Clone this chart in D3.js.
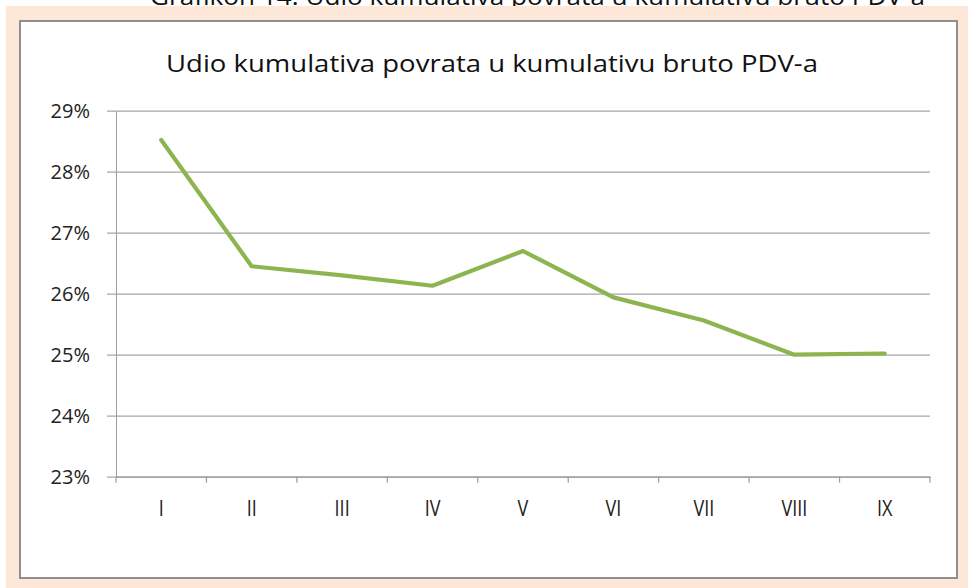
<!DOCTYPE html>
<html>
<head>
<meta charset="utf-8">
<script src="https://cdn.jsdelivr.net/npm/d3@7"></script>
<style>
  html, body { margin: 0; padding: 0; background: #ffffff; }
  svg { display: block; }
</style>
</head>
<body>
<svg id="chart" width="968" height="588"></svg>
<script>
const categories = ["I", "II", "III", "IV", "V", "VI", "VII", "VIII", "IX"];
const shareValues = [28.52, 26.45, 26.30, 26.13, 26.70, 25.94, 25.56, 25.00, 25.02];
const yTicks = [23, 24, 25, 26, 27, 28, 29];
const chartTitle = "Udio kumulativa povrata u kumulativu bruto PDV-a";
const captionText = "Grafikon 14: Udio kumulativa povrata u kumulativu bruto PDV-a";

const svg = d3.select("#chart");
const W = 968, H = 588;
const font = "'Open Sans', 'Liberation Sans', sans-serif";

// caption cut off at the top
svg.append("text")
  .attr("x", 150).attr("y", 5)
  .attr("textLength", 775).attr("lengthAdjust", "spacingAndGlyphs")
  .style("font-family", font).style("font-size", "24px").style("fill", "#111")
  .text(captionText);

// peach frame
svg.append("rect").attr("x", 6).attr("y", 6).attr("width", W - 6).attr("height", H - 6)
  .attr("fill", "#fde7d8");

// white chart box
svg.append("rect").attr("x", 20).attr("y", 21).attr("width", 937).attr("height", 557)
  .attr("fill", "#ffffff").attr("stroke", "#8f8f8f").attr("stroke-width", 2);

const margin = { left: 116, right: 930, top: 110.7, bottom: 476.7 };

const x = d3.scaleBand().domain(categories).range([margin.left, margin.right]).paddingInner(0).paddingOuter(0);
const y = d3.scaleLinear().domain([23, 29]).range([margin.bottom, margin.top]);

// title
svg.append("text")
  .attr("x", (166 + 818) / 2).attr("y", 72)
  .attr("text-anchor", "middle")
  .attr("textLength", 652).attr("lengthAdjust", "spacingAndGlyphs")
  .style("font-family", font).style("font-size", "23.5px").style("fill", "#111")
  .text(chartTitle);

// gridlines + y axis
const yAxis = d3.axisLeft(y).tickValues(yTicks)
  .tickSize(-(margin.right - margin.left)).tickSizeOuter(0)
  .tickFormat(d => d + "%");
const gy = svg.append("g").attr("transform", `translate(${margin.left},0)`).call(yAxis);
gy.select(".domain").attr("stroke", "#9c9c9c");
gy.selectAll(".tick line").attr("stroke", "#a6a6a6").attr("stroke-width", 1.3)
  .attr("x1", -9);
gy.selectAll(".tick text").attr("x", -26).attr("dy", "0.36em")
  .style("font-family", font).style("font-size", "20px").style("fill", "#222");

// x axis
const xAxis = d3.axisBottom(x).tickSize(0).tickSizeOuter(0);
const gx = svg.append("g").attr("transform", `translate(0,${margin.bottom})`).call(xAxis);
gx.select(".domain").attr("stroke", "#9c9c9c").attr("stroke-width", 1.3);
gx.selectAll(".tick text").attr("y", 24).attr("dy", "0.71em")
  .style("font-family", font).style("font-size", "22px").style("fill", "#222")
  .attr("transform", "scale(0.85,1)")
  .attr("x", function() { return 0; });
// apply horizontal condensing around each tick's center
gx.selectAll(".tick").each(function() {
  const t = d3.select(this);
  t.select("text").attr("transform", "scale(0.82,1)");
});

// x tick marks at band boundaries
const boundaries = categories.map(c => x(c)).concat([x(categories[categories.length - 1]) + x.bandwidth()]);
svg.append("g").selectAll("line").data(boundaries).join("line")
  .attr("x1", d => d).attr("x2", d => d)
  .attr("y1", margin.bottom).attr("y2", margin.bottom + 6)
  .attr("stroke", "#9c9c9c").attr("stroke-width", 1.2);

// line
const line = d3.line()
  .x((d, i) => x(categories[i]) + x.bandwidth() / 2)
  .y(d => y(d));
svg.append("path").datum(shareValues)
  .attr("d", line)
  .attr("fill", "none")
  .attr("stroke", "#8db54f")
  .attr("stroke-width", 4.2)
  .attr("stroke-linejoin", "round")
  .attr("stroke-linecap", "round");
</script>
</body>
</html>
